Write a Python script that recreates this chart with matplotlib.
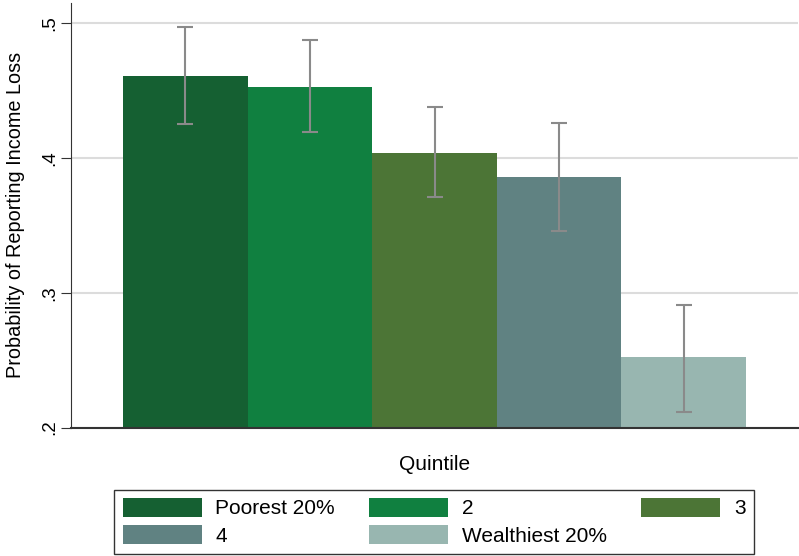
import numpy as np
import matplotlib.pyplot as plt
from matplotlib.patches import Patch

plt.rcParams['font.family'] = ['Liberation Sans', 'DejaVu Sans']

quintiles = ["Poorest 20%", "2", "3", "4", "Wealthiest 20%"]
prob = [0.461, 0.453, 0.404, 0.386, 0.252]
ci_low = [0.425, 0.4195, 0.371, 0.346, 0.2115]
ci_high = [0.497, 0.4875, 0.438, 0.426, 0.291]
colors = ["#156032", "#108040", "#4c7536", "#608282", "#98b6b0"]
yticks = [0.2, 0.3, 0.4, 0.5]
ytick_labels = [".2", ".3", ".4", ".5"]

fig = plt.figure(figsize=(7.99, 5.56), dpi=100)
ax = fig.add_axes([71/799, 1 - 427.5/556, 727/799, 424.5/556])

x = np.arange(1, len(quintiles) + 1)
ax.bar(x, np.array(prob) - 0.2, bottom=0.2, width=1.0, color=colors, zorder=2)
yerr = [np.array(prob) - np.array(ci_low), np.array(ci_high) - np.array(prob)]
ax.errorbar(x, prob, yerr=yerr, fmt='none', ecolor='#8a8a8a', elinewidth=1.5,
            capsize=6, capthick=1.5, zorder=3)

ax.set_xlim(0.083, 5.917)
ax.set_ylim(0.2, 0.5151)
ax.set_yticks(yticks)
ax.set_yticklabels(ytick_labels, rotation=90, va='center', fontsize=13.5)
ax.set_xticks([])
ax.grid(axis='y', color='#dcdcdc', linewidth=1.5, zorder=0)
ax.set_axisbelow(True)
for s in ['top', 'right']:
    ax.spines[s].set_visible(False)
ax.spines['left'].set_color('#333333')
ax.spines['bottom'].set_color('#333333')
ax.spines['bottom'].set_linewidth(1.5)
ax.tick_params(axis='y', length=7, color='#333333', pad=2)

ax.set_ylabel("Probability of Reporting Income Loss", fontsize=14.3, labelpad=12)
ax.set_xlabel("Quintile", fontsize=15, labelpad=20)

# legend fills column-wise, so order the handles to read row by row
handles = [Patch(facecolor=c) for c in colors]
order = [0, 3, 1, 4, 2]
leg = fig.legend([handles[i] for i in order], [quintiles[i] for i in order],
                 ncol=3, loc='center', bbox_to_anchor=(0.5433, 0.0615),
                 fontsize=15, frameon=True, fancybox=False, edgecolor='black',
                 handlelength=3.8, handleheight=1.0, handletextpad=0.65,
                 columnspacing=1.64, labelspacing=0.32, borderpad=0.4,
                 borderaxespad=0)
leg.get_frame().set_linewidth(1.0)

fig.savefig("out.png", dpi=100)
